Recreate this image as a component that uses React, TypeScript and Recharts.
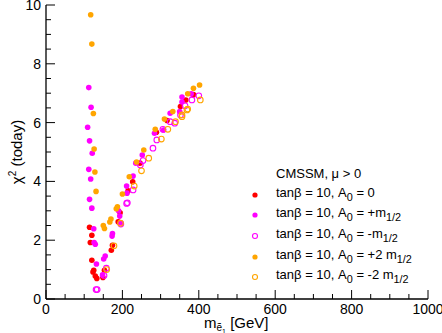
import { ScatterChart, Scatter, XAxis, YAxis, Legend, Label } from 'recharts'

type Pt = [number, number]

// m_selectron [GeV], chi^2 (today)
const aZero: Pt[] = [
  [114, 2.44], [120, 2.17], [116, 1.92], [120, 1.32], [123, 0.92], [125, 0.98], [129, 0.78],
  [133, 0.7], [149, 0.73], [153, 0.98], [171, 1.66], [174, 1.83], [189, 2.63], [194, 2.93],
  [215, 3.68], [227, 3.99], [246, 4.62], [289, 5.67], [317, 6.07], [352, 6.55], [366, 6.77], [386, 6.95],
]
const aPlus: Pt[] = [
  [112, 7.19], [118, 6.52], [109, 5.84], [114, 5.38], [121, 4.96], [112, 4.41], [117, 4.08],
  [114, 3.39], [120, 3.09], [125, 2.39], [126, 1.92], [129, 1.86], [132, 1.19], [151, 1.36],
  [155, 1.46], [148, 0.82], [173, 2.14], [174, 2.23], [190, 3.0], [193, 2.82], [196, 2.59],
  [212, 3.6], [211, 3.84], [228, 4.18], [235, 4.62], [252, 4.9], [284, 5.64], [308, 5.75],
  [325, 6.32], [350, 6.38], [356, 6.87], [356, 6.7], [380, 6.98],
]
const aMinus: Pt[] = [
  [131, 0.32], [134, 0.32], [152, 0.8], [158, 1.05], [196, 2.55], [211, 3.25], [213, 3.27],
  [228, 3.71], [247, 4.56], [254, 4.71], [280, 5.13], [290, 5.41], [306, 5.77], [325, 6.03],
  [337, 5.98], [352, 6.26], [364, 6.57], [382, 6.77], [400, 6.91],
]
const aPlus2: Pt[] = [
  [117, 9.67], [120, 8.67], [124, 6.31], [126, 5.1], [128, 4.32], [131, 3.66], [150, 2.5],
  [153, 2.4], [167, 2.62], [170, 2.72], [184, 3.07], [187, 3.14], [200, 3.57], [218, 4.16],
  [237, 4.66], [256, 5.07], [286, 5.77], [310, 6.12], [332, 6.38], [371, 6.98], [386, 7.17], [402, 7.28],
]
const aMinus2: Pt[] = [
  [159, 1.0], [178, 1.81], [195, 2.58], [231, 3.84], [250, 4.36], [269, 4.79], [302, 5.44],
  [319, 5.77], [339, 6.03], [356, 6.2], [356, 6.26], [369, 6.43], [371, 6.46], [404, 6.77],
]

const xTicks = [0, 50, 100, 150, 200, 250, 300, 350, 400, 450, 500, 550, 600, 650, 700, 750, 800, 850, 900, 950, 1000]
const yTicks = [0, 0.5, 1, 1.5, 2, 2.5, 3, 3.5, 4, 4.5, 5, 5.5, 6, 6.5, 7, 7.5, 8, 8.5, 9, 9.5, 10]

const font = '"Liberation Sans", Arial, sans-serif'

const series = [
  { name: 'zero', data: aZero, color: '#ff0000', open: false, label: <>tanβ = 10, A<sub style={sub}>0</sub> = 0</> },
  { name: 'plus', data: aPlus, color: '#ff00ff', open: false, label: <>tanβ = 10, A<sub style={sub}>0</sub> = +m<sub style={sub}>1/2</sub></> },
  { name: 'minus', data: aMinus, color: '#ff00ff', open: true, label: <>tanβ = 10, A<sub style={sub}>0</sub> = -m<sub style={sub}>1/2</sub></> },
  { name: 'plus2', data: aPlus2, color: '#ffa500', open: false, label: <>tanβ = 10, A<sub style={sub}>0</sub> = +2 m<sub style={sub}>1/2</sub></> },
  { name: 'minus2', data: aMinus2, color: '#ffa500', open: true, label: <>tanβ = 10, A<sub style={sub}>0</sub> = -2 m<sub style={sub}>1/2</sub></> },
]

var sub: React.CSSProperties = { fontSize: 9, lineHeight: 0, verticalAlign: -3 }

const toRows = (pts: Pt[]) => pts.map(([x, y]) => ({ x, y }))

const dot = (color: string, open: boolean) => (p: any) =>
  open
    ? <circle cx={p.cx} cy={p.cy} r={2.8} fill="none" stroke={color} strokeWidth={1.1} />
    : <circle cx={p.cx} cy={p.cy} r={2.8} fill={color} />

const bigX = (v: number) => v % 200 === 0
const bigY = (v: number) => v % 2 === 0

function BottomTick({ x, y, payload }: any) {
  const major = bigX(payload.value)
  return (
    <g>
      <line x1={x} x2={x} y1={y} y2={y - (major ? 9 : 5)} stroke="#000" />
      {major && (
        <text x={x} y={y + 15} textAnchor="middle" fontSize={14} fontFamily={font} fill="#000">
          {payload.value}
        </text>
      )}
    </g>
  )
}
function TopTick({ x, y, payload }: any) {
  return <line x1={x} x2={x} y1={y} y2={y + (bigX(payload.value) ? 9 : 5)} stroke="#000" />
}
function LeftTick({ x, y, payload }: any) {
  const major = bigY(payload.value)
  return (
    <g>
      <line x1={x} x2={x + (major ? 9 : 5)} y1={y} y2={y} stroke="#000" />
      {major && (
        <text x={x - 5} y={y + 5} textAnchor="end" fontSize={14} fontFamily={font} fill="#000">
          {payload.value}
        </text>
      )}
    </g>
  )
}
function RightTick({ x, y, payload }: any) {
  return <line x1={x} x2={x - (bigY(payload.value) ? 9 : 5)} y1={y} y2={y} stroke="#000" />
}

function LegendBox() {
  const row: React.CSSProperties = { height: 20.6, lineHeight: '20.6px', display: 'flex', alignItems: 'center', whiteSpace: 'nowrap' }
  return (
    <div style={{ fontFamily: font, fontSize: 13, color: '#000' }}>
      <div style={{ ...row, paddingLeft: 28 }}>CMSSM, μ &gt; 0</div>
      {series.map(s => (
        <div key={s.name} style={row}>
          <svg width={28} height={10}>
            {s.open
              ? <circle cx={7} cy={5} r={2.5} fill="none" stroke={s.color} strokeWidth={1.1} />
              : <circle cx={7} cy={5} r={2.6} fill={s.color} />}
          </svg>
          <span>{s.label}</span>
        </div>
      ))}
    </div>
  )
}

export default function App() {
  return (
    <div style={{ position: 'absolute', left: 0, top: 0, background: '#fff' }}>
      <ScatterChart width={442} height={333} margin={{ top: 5, right: 14, bottom: 0, left: 0 }}>
        <XAxis
          type="number" dataKey="x" domain={[0, 1000]} ticks={xTicks} interval={0}
          height={34} tickSize={0} tickMargin={0} tickLine={false}
          axisLine={{ stroke: '#000', strokeWidth: 1.3 }} tick={<BottomTick />}
        >
          <Label
            content={({ viewBox }: any) => (
              <text x={viewBox.x + viewBox.width / 2 - 33} y={viewBox.y + 29} fontSize={15} fontFamily={font} fill="#000">
                <tspan>m</tspan>
                <tspan dy={3} fontSize={10}>ẽ</tspan>
                <tspan dy={3} fontSize={7}>1</tspan>
                <tspan dy={-6}> [GeV]</tspan>
              </text>
            )}
          />
        </XAxis>
        <XAxis
          xAxisId="top" orientation="top" type="number" dataKey="x" domain={[0, 1000]} ticks={xTicks} interval={0}
          height={0} tickSize={0} tickMargin={0} tickLine={false}
          axisLine={{ stroke: '#000', strokeWidth: 1.3 }} tick={<TopTick />}
        />
        <YAxis
          type="number" dataKey="y" domain={[0, 10]} ticks={yTicks} interval={0}
          width={46} tickSize={0} tickMargin={0} tickLine={false}
          axisLine={{ stroke: '#000', strokeWidth: 1.3 }} tick={<LeftTick />}
        >
          <Label
            content={({ viewBox }: any) => (
              <text transform={`translate(${viewBox.x + 22}, ${viewBox.y + viewBox.height / 2}) rotate(-90)`}
                textAnchor="middle" fontSize={15} fontFamily={font} fill="#000">
                <tspan>χ</tspan>
                <tspan dy={-6} fontSize={10}>2</tspan>
                <tspan dy={6}> (today)</tspan>
              </text>
            )}
          />
        </YAxis>
        <YAxis
          yAxisId="right" orientation="right" type="number" dataKey="y" domain={[0, 10]} ticks={yTicks} interval={0}
          width={0} tickSize={0} tickMargin={0} tickLine={false}
          axisLine={{ stroke: '#000', strokeWidth: 1.3 }} tick={<RightTick />}
        />
        {series.map(s => (
          <Scatter
            key={s.name}
            name={s.name}
            data={toRows(s.data)}
            shape={dot(s.color, s.open)}
            isAnimationActive={false}
          />
        ))}
        <Legend
          layout="vertical" align="center" verticalAlign="middle"
          wrapperStyle={{ left: 248, top: 164, width: 190 }}
          content={<LegendBox />}
        />
      </ScatterChart>
    </div>
  )
}
